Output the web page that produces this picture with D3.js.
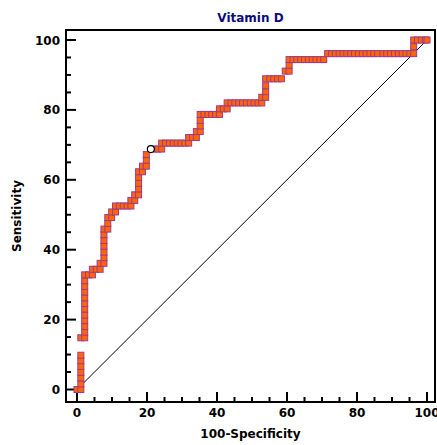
<!DOCTYPE html>
<html>
<head>
<meta charset="utf-8">
<script src="https://cdnjs.cloudflare.com/ajax/libs/d3/7.8.5/d3.min.js"></script>
<style>
  body { margin: 0; background: #fff; }
  svg { display: block; }
  text { font-family: "DejaVu Sans", Verdana, sans-serif; font-weight: bold; }
</style>
</head>
<body>
<div id="chart"></div>
<script>
// ROC curve points: 100-Specificity (x) and Sensitivity (y)
var fpr = [
    0, 1.1,
    1.1, 1.1, 1.1, 1.1, 1.1, 1.1,
    1.1, 2.2,
    2.2, 2.2, 2.2, 2.2, 2.2, 2.2, 2.2, 2.2, 2.2, 2.2, 2.2,
    3.3, 4.4,
    4.4, 5.5, 6.6,
    6.6, 7.7,
    7.7, 7.7, 7.7, 7.7, 7.7, 7.7,
    8.8, 8.8, 8.8, 9.9, 9.9, 11.0,
    11.0, 12.1, 13.2, 14.3, 15.4,
    15.4, 16.5, 16.5, 17.6,
    17.6, 17.6, 17.6, 17.6, 18.7, 18.7, 19.8, 19.8, 19.8,
    22.0, 23.1, 24.2,
    24.2, 25.3, 26.4, 27.5, 28.6, 29.7, 30.8, 31.9,
    31.9, 33.0, 34.1,
    34.1, 35.2,
    35.2, 35.2, 35.2,
    36.3, 37.4, 38.5, 39.6, 40.7,
    40.7, 41.8, 42.9,
    42.9, 44.0, 45.1, 46.2, 47.3, 48.4, 49.5, 50.6, 51.7, 52.8,
    52.8, 53.9,
    53.9, 53.9, 53.9,
    55.1, 56.2, 57.3, 58.4,
    59.5, 60.6,
    60.6, 60.6,
    61.7, 62.8, 63.9, 65.0, 66.1, 67.2, 68.3, 69.4, 70.5,
    71.6, 72.7, 73.8, 74.9, 76.0, 77.1, 78.2, 79.3, 80.4, 81.5, 82.6, 83.7, 84.8, 85.9,
    87.4, 88.5, 89.6, 90.7, 91.8, 92.9, 94.0, 95.1, 96.2,
    96.2, 96.2, 97.3, 98.4, 99.5, 100
];
var sensitivity = [
    0, 0,
    1.6, 3.3, 4.9, 6.6, 8.2, 9.8,
    14.8, 14.8,
    16.4, 18.0, 19.7, 21.3, 23.0, 24.6, 26.2, 27.9, 29.5, 31.1, 32.8,
    32.8, 32.8,
    34.4, 34.4, 34.4,
    36.1, 36.1,
    37.7, 39.3, 41.0, 42.6, 44.3, 45.9,
    45.9, 47.5, 49.2, 49.2, 50.8, 50.8,
    52.5, 52.5, 52.5, 52.5, 52.5,
    54.1, 54.1, 55.7, 55.7,
    57.4, 59.0, 60.7, 62.3, 62.3, 63.9, 63.9, 65.6, 67.2,
    68.8, 68.8, 68.8,
    70.5, 70.5, 70.5, 70.5, 70.5, 70.5, 70.5, 70.5,
    72.1, 72.1, 72.1,
    73.8, 73.8,
    75.4, 77.0, 78.7,
    78.7, 78.7, 78.7, 78.7, 78.7,
    80.3, 80.3, 80.3,
    82.0, 82.0, 82.0, 82.0, 82.0, 82.0, 82.0, 82.0, 82.0, 82.0,
    83.6, 83.6,
    85.2, 86.9, 88.9,
    88.9, 88.9, 88.9, 88.9,
    91.1, 91.1,
    92.8, 94.4,
    94.4, 94.4, 94.4, 94.4, 94.4, 94.4, 94.4, 94.4, 94.4,
    96.1, 96.1, 96.1, 96.1, 96.1, 96.1, 96.1, 96.1, 96.1, 96.1, 96.1, 96.1, 96.1, 96.1,
    96.1, 96.1, 96.1, 96.1, 96.1, 96.1, 96.1, 96.1, 96.1,
    98.1, 100, 100, 100, 100, 100
];
// optimal criterion point
var criterion = [{ x: 21.1, y: 68.8 }];
var diagonal = [[0, 0], [100, 100]];
var majorTicks = [0, 20, 40, 60, 80, 100];
var minorTicks = [5, 10, 15, 25, 30, 35, 45, 50, 55, 65, 70, 75, 85, 90, 95];

var width = 437, height = 445;
var frame = { left: 66, right: 435, top: 30, bottom: 402 };

var svg = d3.select("#chart").append("svg")
    .attr("width", width)
    .attr("height", height);

var x = d3.scaleLinear().domain([0, 100]).range([77, 427]);
var y = d3.scaleLinear().domain([0, 100]).range([389.5, 40]);

// frame
svg.append("rect")
    .attr("x", frame.left)
    .attr("y", frame.top)
    .attr("width", frame.right - frame.left)
    .attr("height", frame.bottom - frame.top)
    .attr("fill", "none")
    .attr("stroke", "#000")
    .attr("stroke-width", 2);

// x axis (ticks pointing inward)
var xAxis = svg.append("g")
    .attr("transform", "translate(0," + frame.bottom + ")");
xAxis.selectAll(".major")
    .data(majorTicks)
    .enter()
    .append("line")
    .attr("x1", function (d) { return x(d); })
    .attr("x2", function (d) { return x(d); })
    .attr("y1", 0)
    .attr("y2", -10)
    .attr("stroke", "#000")
    .attr("stroke-width", 2);
xAxis.selectAll(".minor")
    .data(minorTicks)
    .enter()
    .append("line")
    .attr("x1", function (d) { return x(d); })
    .attr("x2", function (d) { return x(d); })
    .attr("y1", 0)
    .attr("y2", -5)
    .attr("stroke", "#000")
    .attr("stroke-width", 2);
xAxis.selectAll("text")
    .data(majorTicks)
    .enter()
    .append("text")
    .attr("x", function (d) { return x(d); })
    .attr("y", 15)
    .attr("text-anchor", "middle")
    .attr("font-size", "12px")
    .text(function (d) { return d; });

// y axis
var yAxis = svg.append("g")
    .attr("transform", "translate(" + frame.left + ",0)");
yAxis.selectAll(".major")
    .data(majorTicks)
    .enter()
    .append("line")
    .attr("y1", function (d) { return y(d); })
    .attr("y2", function (d) { return y(d); })
    .attr("x1", 0)
    .attr("x2", 10)
    .attr("stroke", "#000")
    .attr("stroke-width", 2);
yAxis.selectAll(".minor")
    .data(minorTicks)
    .enter()
    .append("line")
    .attr("y1", function (d) { return y(d); })
    .attr("y2", function (d) { return y(d); })
    .attr("x1", 0)
    .attr("x2", 5)
    .attr("stroke", "#000")
    .attr("stroke-width", 2);
yAxis.selectAll("text")
    .data(majorTicks)
    .enter()
    .append("text")
    .attr("x", -6)
    .attr("y", function (d) { return y(d) + 4.5; })
    .attr("text-anchor", "end")
    .attr("font-size", "12px")
    .text(function (d) { return d; });

// titles
var cx = (frame.left + frame.right) / 2;
svg.append("text")
    .attr("x", cx)
    .attr("y", 22)
    .attr("text-anchor", "middle")
    .attr("font-size", "12px")
    .attr("fill", "#0c0c80")
    .text("Vitamin D");
svg.append("text")
    .attr("x", cx)
    .attr("y", 438)
    .attr("text-anchor", "middle")
    .attr("font-size", "12px")
    .text("100-Specificity");
svg.append("text")
    .attr("transform", "translate(21," + ((frame.top + frame.bottom) / 2) + ") rotate(-90)")
    .attr("text-anchor", "middle")
    .attr("font-size", "12px")
    .text("Sensitivity");

// diagonal reference line
svg.append("path")
    .datum(diagonal)
    .attr("d", d3.line()
        .x(function (d) { return x(d[0]); })
        .y(function (d) { return y(d[1]); }))
    .attr("fill", "none")
    .attr("stroke", "#000")
    .attr("stroke-width", 1);

// ROC markers
var points = fpr.map(function (v, i) {
    return { x: v, y: sensitivity[i] };
});
var size = 6;
svg.selectAll(".roc")
    .data(points)
    .enter()
    .append("rect")
    .attr("class", "roc")
    .attr("x", function (d) { return x(d.x) - size / 2; })
    .attr("y", function (d) { return y(d.y) - size / 2; })
    .attr("width", size)
    .attr("height", size)
    .attr("fill", "#ff6600")
    .attr("stroke", "#a0398c")
    .attr("stroke-width", 1);

svg.selectAll(".crit")
    .data(criterion)
    .enter()
    .append("circle")
    .attr("class", "crit")
    .attr("cx", function (d) { return x(d.x); })
    .attr("cy", function (d) { return y(d.y); })
    .attr("r", 3.5)
    .attr("fill", "#fff")
    .attr("stroke", "#000")
    .attr("stroke-width", 1.2);
</script>
</body>
</html>
